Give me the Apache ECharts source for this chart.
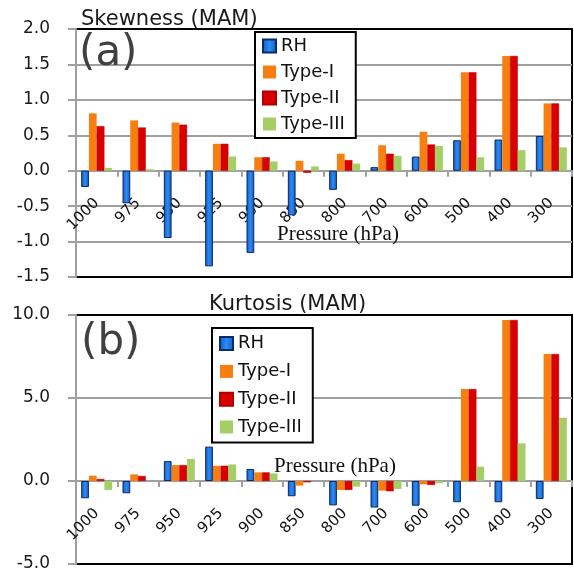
<!DOCTYPE html>
<html><head><meta charset="utf-8">
<script src="https://cdn.jsdelivr.net/npm/echarts@6/dist/echarts.min.js"></script>
<style>html,body{margin:0;padding:0;background:#fff}#c{width:574px;height:571px}</style>
</head><body><div id="c"></div>
<script>
// ---- data ----
const categories = ['1000','975','950','925','900','850','800','700','600','500','400','300'];
const seriesNames = ['RH','Type-I','Type-II','Type-III'];
const skewRH    = [-0.23,-0.46,-0.95,-1.35,-1.16,-0.63,-0.27,0.05,0.20,0.43,0.44,0.49];
const skewType1 = [0.81,0.71,0.68,0.38,0.19,0.14,0.24,0.36,0.55,1.39,1.62,0.95];
const skewType2 = [0.63,0.61,0.65,0.38,0.19,-0.03,0.15,0.24,0.37,1.39,1.62,0.95];
const skewType3 = [0.04,0.02,0.00,0.20,0.13,0.06,0.10,0.21,0.35,0.19,0.29,0.33];
const kurtRH    = [-1.04,-0.74,1.20,2.07,0.72,-0.92,-1.47,-1.60,-1.49,-1.28,-1.28,-1.08];
const kurtType1 = [0.32,0.40,0.96,0.92,0.52,-0.28,-0.54,-0.58,-0.20,5.54,9.70,7.65];
const kurtType2 = [0.12,0.30,0.96,0.92,0.52,-0.08,-0.54,-0.62,-0.24,5.54,9.70,7.65];
const kurtType3 = [-0.54,0.00,1.33,1.00,0.46,0.00,-0.34,-0.48,-0.14,0.86,2.27,3.81];
const skewAxis = {min:-1.5, max:2.0, interval:0.5};
const kurtAxis = {min:-5, max:10, interval:5};

// ---- layout / styles ----
const CH = 571;
const grids = [
  {left:76, right:2, top:29, bottom:294},
  {left:76, right:2, top:315, bottom:7}
];
const axesDef = [skewAxis, kurtAxis];
const FONT = 'DejaVu Sans';
const Y_MARGIN = 26, X_MARGIN = 30;
const styles = [
  {color:{type:'linear',x:0,y:0,x2:1,y2:0,colorStops:[{offset:0,color:'#1558c0'},{offset:0.5,color:'#2b8cf2'},{offset:1,color:'#1558c0'}]}, borderColor:'#0b2a6a', borderWidth:1},
  {color:'#f77f12', borderWidth:0},
  {color:'#d80000', borderColor:'#b00000', borderWidth:0.5},
  {color:'#a3cf66', borderWidth:0}
];
const skewData = [skewRH, skewType1, skewType2, skewType3];
const kurtData = [kurtRH, kurtType1, kurtType2, kurtType3];

function zeroOffset(gi, ax){
  const h = CH - grids[gi].top - grids[gi].bottom;
  return -((0 - ax.min) / (ax.max - ax.min)) * h;
}
function xAx(gi, ax){
  return {type:'category', gridIndex:gi, data:categories, position:'bottom', offset:zeroOffset(gi, ax),
    axisLine:{onZero:false, lineStyle:{color:'#a0a0a0', width:2}},
    axisTick:{show:true, length:6, alignWithLabel:false, lineStyle:{color:'#a0a0a0', width:2}},
    axisLabel:{rotate:45, margin:X_MARGIN, interval:0, color:'#111', fontFamily:FONT, fontSize:15},
    splitLine:{show:false}};
}
function yAx(gi, ax){
  return {type:'value', gridIndex:gi, min:ax.min, max:ax.max, interval:ax.interval,
    axisLine:{show:true, onZero:false, lineStyle:{color:'#a0a0a0', width:2}},
    axisTick:{show:true, length:8, lineStyle:{color:'#a0a0a0', width:2}},
    axisLabel:{margin:Y_MARGIN, color:'#1a1a1a', fontFamily:FONT, fontSize:17, formatter:v=>v.toFixed(1)},
    splitLine:{show:true, showMinLine:false, showMaxLine:false, lineStyle:{color:'#a0a0a0', width:2}}};
}
const seriesList = [];
[skewData, kurtData].forEach((set, gi)=>{
  set.forEach((vals, i)=>{
    seriesList.push({type:'bar', name:seriesNames[i], xAxisIndex:gi, yAxisIndex:gi, data:vals,
      barCategoryGap:'25%', barGap:'0%', itemStyle:styles[i], emphasis:{disabled:true}, animation:false});
  });
});
function makeLegend(left, top, gap, pad){
  return {orient:'vertical', left:left, top:top, data:seriesNames, icon:'rect',
    itemWidth:13, itemHeight:13, itemGap:gap, padding:pad, itemTextGap:6,
    borderColor:'#000', borderWidth:2, backgroundColor:'#fff',
    textStyle:{fontFamily:FONT, fontSize:18, color:'#111', lineHeight:20}, selectedMode:false};
}
const baseGraphic = [
  {type:'text', left:79, top:33, z:10, style:{text:'(a)', font:'42px "DejaVu Sans"', fill:'#404040'}},
  {type:'text', left:81, top:322, z:10, style:{text:'(b)', font:'42px "DejaVu Sans"', fill:'#404040'}},
  {type:'text', left:277, top:224, z:10, style:{text:'Pressure (hPa)', font:'21px "Liberation Serif"', fill:'#111'}},
  {type:'text', left:274, top:456, z:10, style:{text:'Pressure (hPa)', font:'21px "Liberation Serif"', fill:'#111'}}
];
const option = {
  animation:false,
  title:[
    {text:'Skewness (MAM)', left:81, top:9, padding:0, textStyle:{fontFamily:FONT, fontSize:21, fontWeight:'normal', color:'#1a1a1a'}},
    {text:'Kurtosis (MAM)', left:209, top:294, padding:0, textStyle:{fontFamily:FONT, fontSize:21, fontWeight:'normal', color:'#1a1a1a'}}
  ],
  legend:[makeLegend(255, 32, 6, [4,11,4,7]), makeLegend(212, 328, 7.8, [5.6,11,5.6,7])],
  grid:grids.map(g=>Object.assign({show:true, borderColor:'#000', borderWidth:2, outerBoundsMode:'none'}, g)),
  xAxis:[xAx(0, skewAxis), xAx(1, kurtAxis)],
  yAxis:[yAx(0, skewAxis), yAx(1, kurtAxis)],
  series:seriesList,
  graphic:baseGraphic
};
const chart = echarts.init(document.getElementById('c'), null, {renderer:'canvas'});
chart.setOption(option);

// ---- check that axis labels sit where expected; otherwise place them from the axis scales ----
function findLabel(text, minY, maxY){
  const list = chart.getZr().storage.getDisplayList(true);
  for (const el of list){
    if (el.style && el.style.text === text && el.transform){
      const r = el.getBoundingRect().clone();
      r.applyTransform(el.transform);
      const cy = r.y + r.height/2;
      if (cy >= minY && cy <= maxY) return r;
    }
  }
  return null;
}
try {
  const yTop = chart.convertToPixel({yAxisIndex:0}, skewAxis.max);
  const yZero = chart.convertToPixel({yAxisIndex:0}, 0);
  const xFirst = chart.convertToPixel({xAxisIndex:0}, categories[0]);
  const yl = findLabel(skewAxis.max.toFixed(1), yTop - 15, yTop + 15);
  const xl = findLabel(categories[0], yZero, yZero + 80);
  const expYRight = grids[0].left - Y_MARGIN;
  const fixY = !yl || Math.abs((yl.x + yl.width) - expYRight) > 6;
  const expXcy = yZero + X_MARGIN + 0.7071 * 19;
  const fixX = !xl || Math.abs((xl.y + xl.height/2) - expXcy) > 8 || (xl.x + xl.width) > xFirst + 12;
  const extra = [];
  if (fixY) {
    axesDef.forEach((ax, gi) => {
      for (let v = ax.min; v <= ax.max + 1e-9; v += ax.interval) {
        const py = chart.convertToPixel({yAxisIndex:gi}, v);
        extra.push({type:'text', x:grids[gi].left - Y_MARGIN, y:py, z:10,
          style:{text:v.toFixed(1), textAlign:'right', textVerticalAlign:'middle', align:'right', verticalAlign:'middle', font:'17px "DejaVu Sans"', fill:'#1a1a1a'}});
      }
    });
  }
  if (fixX) {
    axesDef.forEach((ax, gi) => {
      const y0 = chart.convertToPixel({yAxisIndex:gi}, 0);
      categories.forEach(c => {
        const px = chart.convertToPixel({xAxisIndex:gi}, c);
        extra.push({type:'text', x:px, y:y0 + X_MARGIN, rotation:Math.PI/4, z:10,
          style:{text:c, textAlign:'right', textVerticalAlign:'middle', align:'right', verticalAlign:'middle', font:'15px "DejaVu Sans"', fill:'#111'}});
      });
    });
  }
  if (fixX || fixY) {
    chart.setOption({
      xAxis:[{axisLabel:{show:!fixX}}, {axisLabel:{show:!fixX}}],
      yAxis:[{axisLabel:{show:!fixY}}, {axisLabel:{show:!fixY}}],
      graphic:baseGraphic.concat(extra)
    });
  }
} catch (e) {}
</script>
</body></html>
